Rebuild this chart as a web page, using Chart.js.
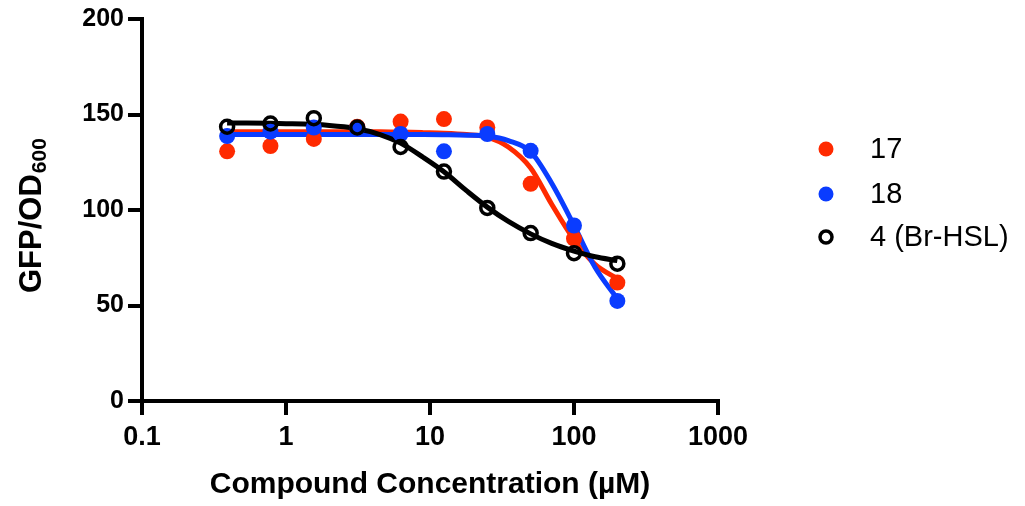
<!DOCTYPE html>
<html>
<head>
<meta charset="utf-8">
<script src="https://cdn.jsdelivr.net/npm/chart.js@4/dist/chart.umd.min.js"></script>
<style>
  html, body { margin: 0; padding: 0; background: #fff; }
  #wrap { width: 1025px; height: 506px; }
</style>
</head>
<body>
<div id="wrap"><canvas id="myChart" width="1025" height="506"></canvas></div>
<script>
// measured points (concentration in uM)
const conc = [0.39, 0.78, 1.56, 3.125, 6.25, 12.5, 25, 50, 100, 200];
const cmpd17 = [130.7, 133.5, 137.2, 143.6, 146.3, 147.6, 143.2, 113.7, 85.0, 62.0];
const cmpd18 = [138.7, 141.0, 143.2, 143.0, 139.8, 130.7, 139.8, 131.0, 91.9, 52.4];
const brHSL = [143.6, 145.3, 148.1, 143.2, 133.0, 120.1, 101.1, 87.9, 77.4, 71.9];

// fitted curves
const curveX = [0.39, 1, 2, 3, 4.5, 6.25, 9, 12.5, 18, 25, 35, 50, 70, 100, 140, 200];
const fit17 = [141, 141, 141, 141, 141, 140.8, 140.5, 140.2, 139.5, 138.2, 133, 122, 103, 84.5, 71.5, 64];
const fit18 = [139.5, 139.5, 139.5, 139.5, 139.5, 139.5, 139.5, 139.4, 139.2, 138.7, 136.3, 130.5, 114, 92, 70, 53.5];
const fitBr = [145.6, 145.2, 144.3, 142.8, 139.5, 135, 127.5, 120, 110, 101.5, 94, 87.5, 82.5, 78.5, 75.5, 73.5];

const labels = ["17", "18", "4 (Br-HSL)"];
const xTicks = [0.1, 1, 10, 100, 1000];
const yTicks = [0, 50, 100, 150, 200];

const red = "#ff2a00";
const blue = "#0a3cff";

function pts(xs, ys) {
    return xs.map((x, i) => ({x: x, y: ys[i]}));
}

const fontFam = "'Liberation Sans', Arial, sans-serif";

// y title with subscript + legend drawn by hand
const extras = {
    id: 'extras',
    afterDraw(chart) {
        const ctx = chart.ctx;
        ctx.save();
        ctx.fillStyle = "#000";
        ctx.translate(41, 293);
        ctx.rotate(-Math.PI / 2);
        ctx.textBaseline = "alphabetic";
        ctx.textAlign = "left";
        ctx.font = "bold 31px " + fontFam;
        ctx.fillText("GFP/OD", 0, 0);
        const w = ctx.measureText("GFP/OD").width;
        ctx.font = "bold 21px " + fontFam;
        ctx.fillText("600", w + 1, 5);
        ctx.restore();

        // legend
        const rows = [149, 194, 237];
        ctx.save();
        ctx.font = "29px " + fontFam;
        ctx.textBaseline = "middle";
        ctx.fillStyle = "#000";
        for (let i = 0; i < 3; i++) {
            const ds = chart.data.datasets[i];
            ctx.beginPath();
            if (i < 2) {
                ctx.arc(826, rows[i], 7.5, 0, Math.PI * 2);
                ctx.fillStyle = ds.backgroundColor;
                ctx.fill();
            } else {
                ctx.arc(826, rows[i], 6, 0, Math.PI * 2);
                ctx.lineWidth = 3.5;
                ctx.strokeStyle = "#000";
                ctx.stroke();
            }
            ctx.fillStyle = "#000";
            ctx.fillText(labels[i], 870, rows[i] + 1);
        }
        ctx.restore();
    }
};

const ctx = document.getElementById('myChart').getContext('2d');
new Chart(ctx, {
    type: 'scatter',
    data: {
        datasets: [
            {label: labels[0], data: pts(conc, cmpd17), backgroundColor: red, borderWidth: 0, pointRadius: 8, order: 2},
            {label: labels[1], data: pts(conc, cmpd18), backgroundColor: blue, borderWidth: 0, pointRadius: 8, order: 1},
            {label: labels[2], data: pts(conc, brHSL), backgroundColor: 'rgba(0,0,0,0)', borderColor: '#000', borderWidth: 3.5, pointRadius: 6.5, order: 0},
            {label: 'fit17', data: pts(curveX, fit17), showLine: true, borderColor: red, borderWidth: 5, pointRadius: 0, cubicInterpolationMode: 'monotone', order: 5},
            {label: 'fit18', data: pts(curveX, fit18), showLine: true, borderColor: blue, borderWidth: 5, pointRadius: 0, cubicInterpolationMode: 'monotone', order: 4},
            {label: 'fitBr', data: pts(curveX, fitBr), showLine: true, borderColor: '#000', borderWidth: 5, pointRadius: 0, cubicInterpolationMode: 'monotone', order: 3}
        ]
    },
    options: {
        responsive: false,
        animation: false,
        devicePixelRatio: 1,
        layout: {padding: {top: 17, right: 307, left: 0, bottom: 0}},
        plugins: {legend: {display: false}, tooltip: {enabled: false}},
        scales: {
            x: {
                type: 'logarithmic',
                min: 0.1,
                max: 1000,
                afterBuildTicks: s => { s.ticks = xTicks.map(v => ({value: v})); },
                afterFit: s => { s.height = 105; },
                ticks: {
                    color: '#000',
                    padding: 6,
                    maxRotation: 0,
                    font: {family: fontFam, size: 27, weight: 'bold'},
                    callback: v => String(v)
                },
                grid: {display: true, drawOnChartArea: false, drawTicks: true, tickLength: 14, color: '#000', lineWidth: 4},
                border: {display: true, color: '#000', width: 4},
                title: {
                    display: true,
                    text: 'Compound Concentration (µM)',
                    color: '#000',
                    font: {family: fontFam, size: 30, weight: 'bold'},
                    padding: {top: 0, bottom: 3}
                }
            },
            y: {
                min: 0,
                max: 200,
                afterBuildTicks: s => { s.ticks = yTicks.map(v => ({value: v})); },
                afterFit: s => { s.width = 142; },
                ticks: {
                    color: '#000',
                    padding: 4,
                    font: {family: fontFam, size: 25, weight: 'bold'}
                },
                grid: {display: true, drawOnChartArea: false, drawTicks: true, tickLength: 14, color: '#000', lineWidth: 4},
                border: {display: true, color: '#000', width: 4}
            }
        }
    },
    plugins: [extras]
});
</script>
</body>
</html>
